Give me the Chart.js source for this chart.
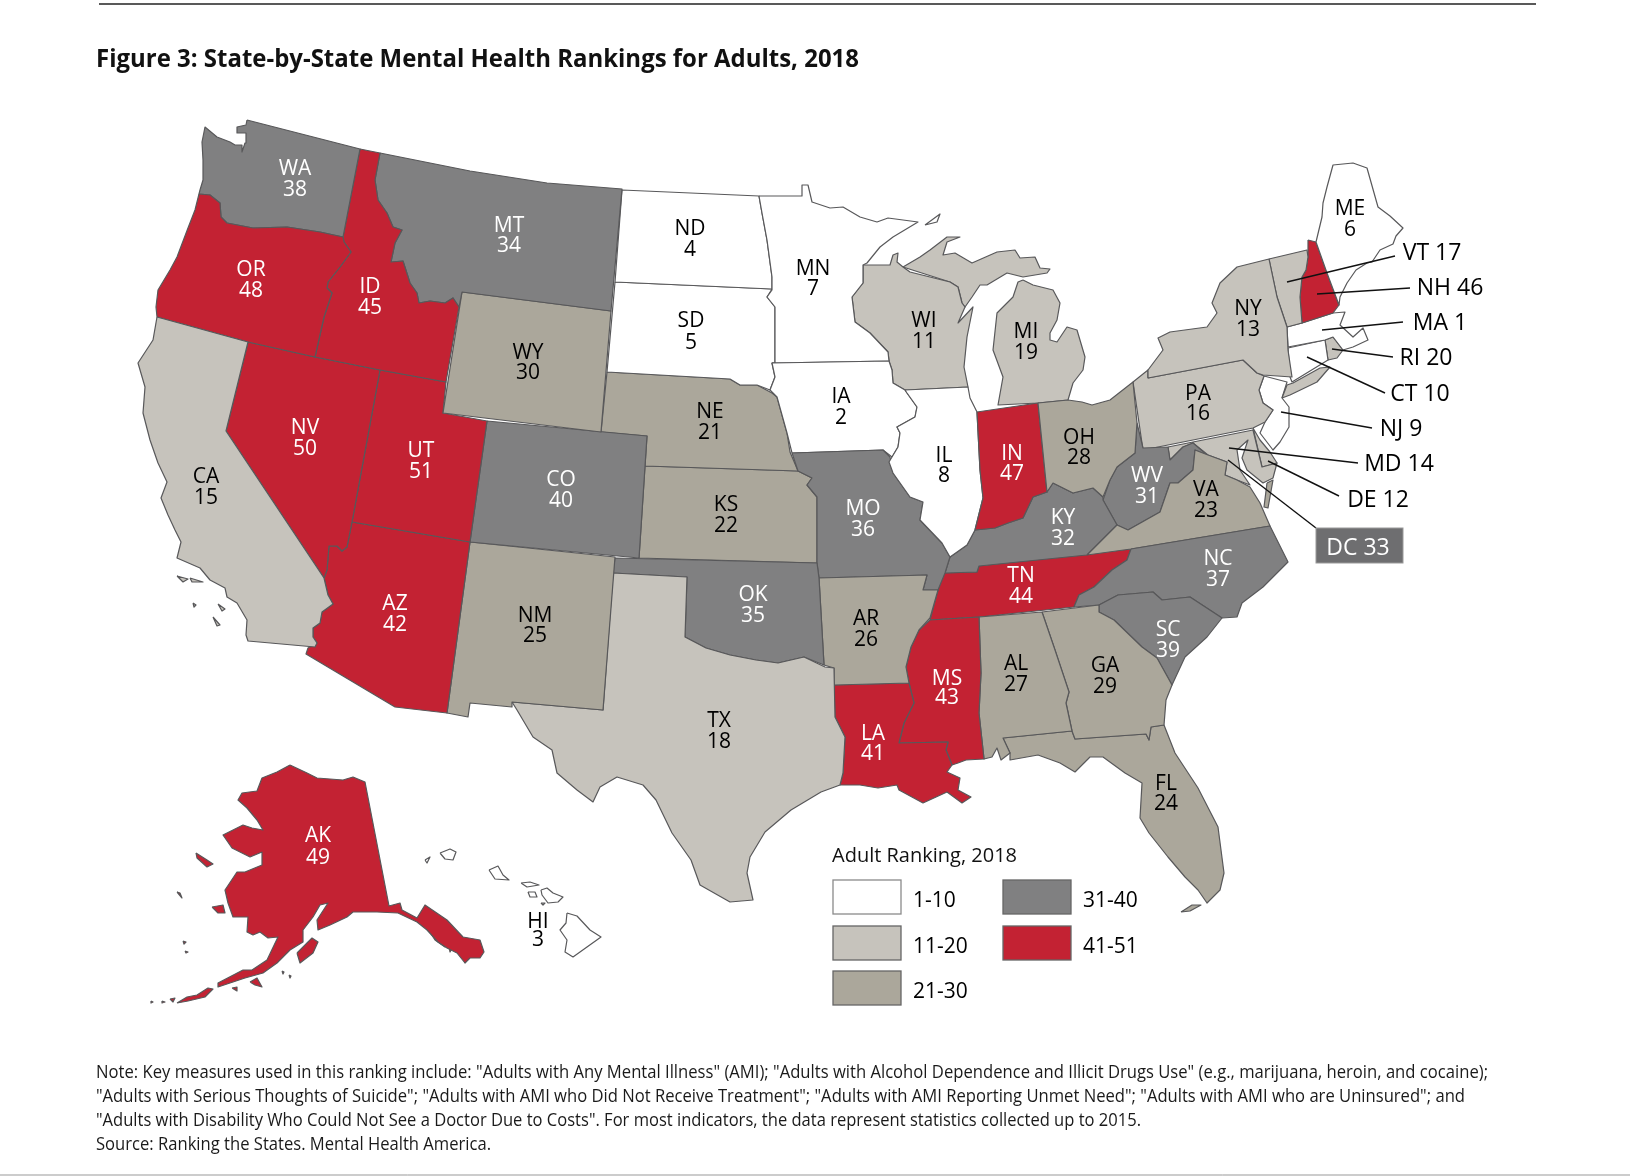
<!DOCTYPE html>
<html><head><meta charset="utf-8">
<style>html,body{margin:0;padding:0;background:#fff}canvas{display:block}</style>
<script src="https://cdn.jsdelivr.net/npm/chart.js@4"></script></head>
<body><canvas id="c" width="1630" height="1176"></canvas>
<script>
const stateCodes=['AL','AK','AZ','AR','CA','CO','CT','DE','DC','FL','GA','HI','ID','IL','IN','IA','KS','KY','LA','ME','MD','MA','MI','MN','MS','MO','MT','NE','NV','NH','NJ','NM','NY','NC','ND','OH','OK','OR','PA','RI','SC','SD','TN','TX','UT','VT','VA','WA','WV','WI','WY'];
const stateRanks=[27,49,42,26,15,40,10,12,33,24,29,3,45,8,47,2,22,32,41,6,14,1,19,7,43,36,34,21,50,46,9,25,13,37,4,28,35,48,16,20,39,5,44,18,51,17,23,38,31,11,30];
const bandNames=['1-10','11-20','21-30','31-40','41-51'];
const bandTops=[10,20,30,40,51];
const bandColors=['#ffffff','#c6c3bc','#aba79b','#808081','#c32233'];

const shapeWA=[247,120,360,149,343,237,320,232,287,227,253,228,227,223,221,217,220,203,210,195,199,194,200,190,203,180,203,160,202,142,205,127,217,137,230,142,235,145,242,145,242,152,245,143,246,133,237,133,237,127,246,125];
const shapeOR=[199,194,210,195,220,203,221,217,227,223,253,228,287,227,320,232,343,237,344,242,351,252,340,267,328,282,327,288,332,293,324,317,315,357,248,342,157,317,156,307,158,290,170,270,177,257,188,228,195,210];
const shapeID=[360,149,380,153,375,180,378,200,387,213,393,227,402,230,395,243,391,262,403,261,410,283,417,293,419,303,430,301,445,303,453,298,459,307,446,382,380,370,315,357,324,317,332,293,327,288,328,282,340,267,351,252,344,242,343,237];
const shapeMT=[380,153,470,171,547,183,622,189,611,311,462,292,459,307,453,298,445,303,430,301,419,303,417,293,410,283,403,261,391,262,395,243,402,230,393,227,387,213,378,200,375,180];
const shapeWY=[462,292,611,311,601,432,443,413];
const shapeCA=[157,317,248,342,226,431,324,578,328,595,333,604,322,612,320,623,313,628,313,637,317,643,315,647,248,641,246,635,247,620,237,603,227,597,225,588,210,580,200,568,177,558,181,542,175,530,168,515,161,498,167,482,158,463,150,440,143,413,145,387,138,363,153,340];
const shapeNV=[248,342,315,357,380,370,352,522,347,547,342,551,337,546,329,546,327,570,324,578,226,431];
const shapeUT=[380,370,446,382,443,413,487,421,470,542,352,522];
const shapeAZ=[352,522,470,542,447,713,395,707,306,654,308,648,317,643,313,637,313,628,320,623,322,612,333,604,328,595,324,578,327,570,329,546,337,546,342,551,347,547];
const shapeCO=[487,421,647,436,639,558,470,542];
const shapeNM=[470,542,615,557,603,710,512,702,512,707,470,703,468,717,447,713];
const shapeTX=[613,573,687,577,685,637,706,648,730,655,756,660,778,663,804,657,825,667,834,668,835,717,845,737,843,773,840,785,821,792,791,810,765,832,750,857,747,873,753,900,730,902,700,885,691,860,672,833,656,800,643,785,617,777,600,787,593,802,577,790,557,773,552,750,533,737,517,710,512,702,603,710];
const shapeOK=[615,558,817,563,819,578,824,665,804,657,778,663,756,660,730,655,706,648,685,637,687,577,613,573];
const shapeAR=[819,578,927,575,923,590,938,590,930,618,919,630,911,647,906,667,909,683,834,685,834,668,824,665];
const shapeLA=[834,685,909,683,914,703,904,723,899,743,948,742,946,750,952,765,947,772,960,778,958,790,971,797,962,803,947,792,923,803,899,790,897,785,878,788,860,785,840,785,843,773,845,737,835,717];
const shapeMS=[930,620,979,617,981,673,979,713,984,759,966,760,958,763,952,765,946,750,948,742,899,743,904,723,914,703,909,683,906,667,911,647,919,630];
const shapeTN=[943,573,977,572,979,566,1131,549,1127,560,1112,570,1094,587,1079,595,1074,607,979,617,930,620,938,590];
const shapeAL=[979,617,1042,612,1055,650,1069,692,1066,703,1072,731,1003,738,1010,753,1001,760,997,748,992,757,984,759,979,713,981,673];
const shapeGA=[1042,612,1099,605,1099,612,1114,620,1142,647,1157,658,1172,685,1166,700,1164,725,1151,727,1149,740,1146,734,1075,739,1072,731,1066,703,1069,692,1055,650];
const shapeFL=[1003,738,1072,731,1075,739,1146,734,1149,740,1151,727,1164,725,1175,753,1198,788,1218,827,1224,873,1220,890,1207,903,1198,890,1185,877,1168,857,1149,833,1140,818,1142,783,1125,773,1103,757,1090,757,1075,772,1060,763,1038,755,1010,760,1010,753];
const shapeFLkeys=[1181,912,1192,905,1201,905,1190,911];
const shapeSC=[1099,605,1118,595,1153,592,1162,600,1190,597,1222,618,1207,637,1185,657,1172,685,1157,658,1142,647,1114,620,1099,612];
const shapeNC=[1131,549,1270,526,1288,562,1263,587,1242,603,1237,617,1222,618,1190,597,1162,600,1153,592,1118,595,1099,605,1074,607,1079,595,1094,587,1112,570,1127,560];
const shapeVA=[1087,555,1117,525,1128,530,1160,512,1170,483,1178,483,1193,470,1195,450,1208,455,1227,462,1225,475,1237,480,1250,487,1260,503,1270,526,1131,549];
const shapeVAshore=[1267,483,1264,507,1268,508,1273,480];
const shapeWV=[1137,423,1143,448,1168,447,1170,460,1183,447,1193,443,1207,455,1195,450,1193,470,1178,483,1170,483,1160,512,1128,530,1117,525,1103,500,1110,480,1117,467,1135,453];
const shapeOH=[1038,403,1068,400,1082,402,1092,405,1110,400,1133,382,1137,423,1135,453,1117,467,1110,480,1103,497,1093,488,1073,493,1053,483,1047,492];
const shapeIN=[977,412,1038,403,1047,492,1033,497,1023,518,1008,523,995,528,975,530,983,498,980,470];
const shapeIL=[905,390,968,387,970,398,977,412,980,470,983,498,975,530,967,545,950,557,942,543,920,520,923,502,910,497,893,473,889,462,898,447,900,433,897,427,915,417,917,407,907,393];
const shapeMO=[792,453,883,450,890,457,893,473,910,497,923,502,920,520,942,543,950,557,949,560,945,573,938,590,923,590,927,575,819,578,817,563,817,497,807,485,812,478,798,471];
const shapeKY=[975,530,995,528,1008,523,1023,518,1033,497,1047,492,1053,483,1073,493,1093,488,1103,497,1103,500,1117,525,1087,555,979,566,977,572,945,573,949,560,950,557,967,545];
const shapeIA=[772,363,889,361,892,370,893,383,905,390,907,393,917,407,915,417,897,427,900,433,898,447,892,457,883,450,792,453,787,433,782,415,777,397,770,390,775,377];
const shapeMN=[759,196,802,196,802,185,808,185,812,202,830,208,843,207,860,217,877,222,888,218,918,222,893,237,880,247,867,263,863,265,863,283,852,297,855,322,870,333,888,352,889,361,772,363,775,363,775,307,767,297,772,290,772,277,767,240,762,213];
const shapeND=[622,190,759,196,762,213,767,240,772,277,772,289,615,282];
const shapeSD=[615,282,772,289,767,297,775,307,775,363,772,363,775,377,770,390,757,385,740,385,730,379,607,372];
const shapeNE=[607,372,730,379,740,385,757,385,772,393,777,397,782,415,787,433,790,452,798,471,645,466,647,436,601,432];
const shapeKS=[645,466,798,471,812,478,807,485,817,497,817,563,639,558];
const shapeWI=[863,265,890,265,893,255,898,253,897,262,903,267,910,272,950,282,958,287,962,303,965,307,958,323,973,307,967,337,964,367,968,387,905,390,893,383,892,370,889,361,888,352,870,333,855,322,852,297,863,283];
const shapeMIup=[903,267,920,257,930,250,947,237,960,237,947,242,943,255,955,253,972,263,997,252,1015,250,1020,258,1035,257,1040,268,1050,269,1047,273,1023,277,1007,273,987,285,980,285,972,297,965,307,962,303,958,287,950,282];
const shapeMIlow=[1023,280,1033,285,1053,290,1060,303,1057,320,1050,333,1050,340,1057,342,1067,327,1077,330,1085,357,1083,370,1073,383,1068,400,1038,403,998,405,1003,377,993,350,997,313,1013,297,1018,282];
const shapeRoyale=[925,225,940,214,937,222];
const shapeNY=[1148,378,1148,370,1163,350,1158,338,1170,332,1207,327,1217,313,1212,303,1220,283,1237,267,1269,259,1277,297,1287,327,1288,350,1292,377,1263,375,1257,373,1243,360];
const shapeLI=[1282,398,1287,385,1293,383,1320,368,1330,367,1317,382,1290,395];
const shapeVT=[1269,259,1307,250,1308,257,1306,270,1302,277,1300,297,1302,323,1287,327,1277,297];
const shapeNH=[1308,240,1316,242,1327,273,1339,305,1333,313,1302,323,1300,297,1302,277,1306,270,1308,257];
const shapeME=[1316,242,1322,217,1323,203,1327,187,1333,165,1353,163,1367,168,1378,207,1390,216,1403,228,1396,236,1393,244,1380,250,1372,262,1367,263,1356,270,1347,283,1340,297,1339,305,1327,273];
const shapeMA=[1287,327,1302,323,1333,313,1345,312,1340,325,1353,337,1363,328,1368,340,1353,347,1343,350,1333,337,1325,340,1288,347];
const shapeRI=[1325,340,1333,337,1343,350,1337,358,1328,360];
const shapeCT=[1288,348,1325,340,1328,360,1292,382,1290,377];
const shapePA=[1133,382,1148,370,1148,378,1243,360,1257,373,1264,376,1259,390,1263,403,1273,410,1265,422,1253,428,1143,450];
const shapeNJ=[1264,376,1287,382,1282,398,1289,407,1289,427,1280,442,1273,450,1260,433,1265,422,1273,410,1263,403,1259,390];
const shapeDE=[1253,428,1262,467,1277,463,1270,452,1260,440];
const shapeMD=[1168,447,1253,430,1262,467,1277,463,1273,478,1263,483,1247,470,1242,458,1248,440,1237,450,1240,470,1250,485,1237,480,1225,475,1227,462,1208,455,1193,443,1183,447,1170,460];
const shapeAK=[290,765,307,773,317,778,343,780,353,777,365,782,389,906,400,903,402,910,417,918,425,905,447,920,463,937,480,940,484,952,480,958,470,958,465,963,457,953,447,948,438,942,427,930,417,922,398,913,377,912,353,912,347,917,330,925,318,930,317,920,328,903,320,905,313,917,303,930,303,942,290,950,277,963,263,973,245,978,218,987,218,983,243,970,252,970,267,960,278,937,268,938,260,932,253,935,247,932,248,917,233,917,228,903,225,890,237,872,245,872,262,865,262,852,250,857,232,848,223,835,243,825,252,828,263,830,257,820,247,808,238,800,242,793,257,791,262,778,277,772];
const shapeAKa=[177,1003,187,997,197,995,208,988,213,989,205,997,188,1001];
const shapeAKb=[297,953,312,938,318,942,313,953,300,963];
const shapeAKc=[196,853,207,860,213,864,207,867,197,858];
const shapeAKd=[212,907,223,905,225,913,218,913];
const shapeAKe=[427,927,437,923,445,947,435,940];
const shapeAKf=[447,937,458,938,450,952];
const shapeAKg=[177,892,180,893,182,898];
const shapeAKh=[250,982,257,978,262,987,255,985];
const shapeAKi=[232,988,237,987,237,991];
const shapeAKj=[282,971,284,972,283,974];
const shapeAKk=[289,975,291,976,290,978];
const shapeAKl=[183,941,186,942,184,944];
const shapeAKm=[185,951,188,952,186,953];
const shapeAKn=[151,1001,153,1002,151,1003];
const shapeAKo=[162,1001,165,1002,162,1003];
const shapeAKp=[170,999,175,998,173,1002];
const shapeHIa=[440,853,450,849,456,852,453,860,445,859];
const shapeHIb=[425,860,430,857,427,863];
const shapeHIc=[489,870,498,866,503,875,509,880,495,879];
const shapeHId=[521,883,530,882,539,885,527,887];
const shapeHIe=[528,892,535,892,537,897,530,897];
const shapeHIf=[541,890,547,888,553,893,563,897,558,902,548,903,542,895];
const shapeHIg=[541,903,545,903,543,905];
const shapeHIh=[567,913,577,916,590,930,601,937,587,947,573,957,565,952,567,940,560,930,566,923];
const shapeCIa=[177,576,188,579,183,582];
const shapeCIb=[190,578,203,582,192,582];
const shapeCIc=[193,603,196,605,194,607];
const shapeCId=[218,604,225,609,222,611];
const shapeCIe=[213,617,220,625,217,626];

const stateParts=[['CA',shapeCA],['CA',shapeCIa],['CA',shapeCIb],['CA',shapeCIc],['CA',shapeCId],['CA',shapeCIe],['OR',shapeOR],['WA',shapeWA],['ID',shapeID],['MT',shapeMT],['WY',shapeWY],['NV',shapeNV],['UT',shapeUT],['AZ',shapeAZ],['CO',shapeCO],['NM',shapeNM],['TX',shapeTX],['OK',shapeOK],['AR',shapeAR],['LA',shapeLA],['MS',shapeMS],['AL',shapeAL],['GA',shapeGA],['FL',shapeFL],['FL',shapeFLkeys],['SC',shapeSC],['NC',shapeNC],['VA',shapeVA],['VA',shapeVAshore],['OH',shapeOH],['IN',shapeIN],['IL',shapeIL],['MO',shapeMO],['KY',shapeKY],['WV',shapeWV],['TN',shapeTN],['IA',shapeIA],['MN',shapeMN],['MN',shapeRoyale],['ND',shapeND],['SD',shapeSD],['NE',shapeNE],['KS',shapeKS],['WI',shapeWI],['MI',shapeMIup],['MI',shapeMIlow],['NY',shapeNY],['NY',shapeLI],['VT',shapeVT],['ME',shapeME],['NH',shapeNH],['MA',shapeMA],['CT',shapeCT],['RI',shapeRI],['PA',shapePA],['NJ',shapeNJ],['MD',shapeMD],['DE',shapeDE],['AK',shapeAK],['AK',shapeAKa],['AK',shapeAKb],['AK',shapeAKc],['AK',shapeAKd],['AK',shapeAKe],['AK',shapeAKf],['AK',shapeAKg],['AK',shapeAKh],['AK',shapeAKi],['AK',shapeAKj],['AK',shapeAKk],['AK',shapeAKl],['AK',shapeAKm],['AK',shapeAKn],['AK',shapeAKo],['AK',shapeAKp],['HI',shapeHIa],['HI',shapeHIb],['HI',shapeHIc],['HI',shapeHId],['HI',shapeHIe],['HI',shapeHIf],['HI',shapeHIg],['HI',shapeHIh]];

/* label anchors: code, x, first-line y, second-line y */
const inlineLabels=[['WA',295,168,189],['MT',509,225,245],['OR',251,269,290],['ID',370,286,307],['WY',528,352,372],['NV',305,427,448],['UT',421,450,471],['CA',206,476,497],['CO',561,479,500],['AZ',395,603,624],['NM',535,615,635],['AK',318,835,857],['HI',538,921,939],['ND',690,228,249],['SD',691,320,342],['NE',710,411,432],['KS',726,504,525],['MN',813,268,288],['IA',841,396,417],['MO',863,508,529],['WI',924,320,341],['MI',1026,331,352],['IL',944,455,475],['IN',1012,453,473],['KY',1063,517,538],['OH',1079,437,457],['OK',753,594,615],['TX',719,720,741],['AR',866,618,639],['LA',873,733,753],['MS',947,678,697],['TN',1021,575,596],['AL',1016,663,684],['GA',1105,665,686],['FL',1166,783,803],['SC',1168,629,650],['NC',1218,558,579],['ME',1350,208,229],['NY',1248,308,329],['PA',1198,393,413],['WV',1147,475,496],['VA',1206,489,510]];
/* callouts: code, text x, text y, line from x,y to x,y */
const calloutLabels=[['VT',1432,252,1395,256,1287,282],['NH',1450,287,1410,288,1317,294],['MA',1440,322,1403,322,1322,330],['RI',1426,357,1393,357,1332,349],['CT',1420,393,1385,393,1307,357],['NJ',1401,428,1372,428,1281,412],['MD',1399,463,1358,463,1229,448],['DE',1378,499,1339,496,1268,461]];
const titleText='Figure 3: State-by-State Mental Health Rankings for Adults, 2018';
const legendTitle='Adult Ranking, 2018';
const noteLines=['Note: Key measures used in this ranking include: "Adults with Any Mental Illness" (AMI); "Adults with Alcohol Dependence and Illicit Drugs Use" (e.g., marijuana, heroin, and cocaine);','"Adults with Serious Thoughts of Suicide"; "Adults with AMI who Did Not Receive Treatment"; "Adults with AMI Reporting Unmet Need"; "Adults with AMI who are Uninsured"; and','"Adults with Disability Who Could Not See a Doctor Due to Costs". For most indicators, the data represent statistics collected up to 2015.','Source: Ranking the States. Mental Health America.'];
const noteWidths=[1392,1369,1045,395];
const noteYs=[1072,1096,1120,1144];
const legendCells=[[833,880],[833,926],[833,971],[1003,880],[1003,926]];

const FONT='"Open Sans"';
const rankOf=c=>stateRanks[stateCodes.indexOf(c)];
const bandOf=r=>bandTops.findIndex(t=>r<=t);
const colorOf=c=>bandColors[bandOf(rankOf(c))];
const toPts=a=>{const p=[];for(let i=0;i<a.length;i+=2)p.push({x:a[i],y:a[i+1]});p.push({x:a[0],y:a[1]});return p;};

const overlay={id:'overlay',afterDatasetsDraw(chart){
  const ctx=chart.ctx,X=v=>chart.scales.x.getPixelForValue(v),Y=v=>chart.scales.y.getPixelForValue(v);
  const txt=(s,x,y,size,color,align,bold,maxW)=>{ctx.font=(bold?'700 ':'400 ')+size+'px '+FONT;ctx.fillStyle=color;ctx.textAlign=align||'center';ctx.textBaseline='alphabetic';
    const yy=Y(y)+0.357*size; if(maxW)ctx.fillText(s,X(x),yy,maxW);else ctx.fillText(s,X(x),yy);};
  ctx.save();
  ctx.strokeStyle='#222';ctx.lineWidth=1.3;ctx.beginPath();ctx.moveTo(X(99),Y(4));ctx.lineTo(X(1536),Y(4));ctx.stroke();
  ctx.strokeStyle='#999';ctx.lineWidth=1;ctx.beginPath();ctx.moveTo(X(0),Y(1175));ctx.lineTo(X(1630),Y(1175));ctx.stroke();
  txt(titleText,96,58,25.5,'#111','left',true,763);
  noteLines.forEach((l,i)=>txt(l,96,noteYs[i],17.5,'#1a1a1a','left',false,noteWidths[i]));
  inlineLabels.forEach(([c,x,y1,y2])=>{const r=rankOf(c),col=r>30?'#fff':'#000';txt(c,x,y1,21,col);txt(String(r),x,y2,21,col);});
  ctx.strokeStyle='#111';ctx.lineWidth=1.4;
  calloutLabels.forEach(([c,tx,ty,x1,y1,x2,y2])=>{ctx.beginPath();ctx.moveTo(X(x1),Y(y1));ctx.lineTo(X(x2),Y(y2));ctx.stroke();txt(c+' '+rankOf(c),tx,ty,23,'#000');});
  ctx.beginPath();ctx.moveTo(X(1316),Y(528));ctx.lineTo(X(1228),Y(460));ctx.stroke();
  ctx.fillStyle='#6e6e70';ctx.fillRect(X(1316),Y(528),X(1403)-X(1316),Y(563)-Y(528));
  ctx.strokeStyle='#9a9a9a';ctx.lineWidth=1;ctx.strokeRect(X(1316),Y(528),X(1403)-X(1316),Y(563)-Y(528));
  txt('DC '+rankOf('DC'),1358,547,23,'#fff');
  txt(legendTitle,832,855,20,'#111','left');
  bandNames.forEach((b,i)=>{const [x,y]=legendCells[i];ctx.fillStyle=bandColors[i];ctx.fillRect(X(x),Y(y),68,34);ctx.strokeStyle=i==0?'#8a8a8a':'#666';ctx.lineWidth=1.3;ctx.strokeRect(X(x),Y(y),68,34);txt(b,x+80,y+20,21,'#000','left');});
  ctx.restore();
}};

new Chart(document.getElementById('c'),{type:'scatter',
  data:{datasets:stateParts.map(([c,s])=>({label:c,data:toPts(s),showLine:true,fill:'shape',backgroundColor:colorOf(c),borderColor:'#58585a',borderWidth:1.2,pointRadius:0,tension:0,borderJoinStyle:'round'}))},
  options:{responsive:false,animation:false,events:[],layout:{padding:0},
    plugins:{legend:{display:false},tooltip:{enabled:false},title:{display:false}},
    scales:{x:{type:'linear',display:false,min:0,max:1630},y:{type:'linear',display:false,min:0,max:1176,reverse:true}}},
  plugins:[overlay]});
</script></body></html>
